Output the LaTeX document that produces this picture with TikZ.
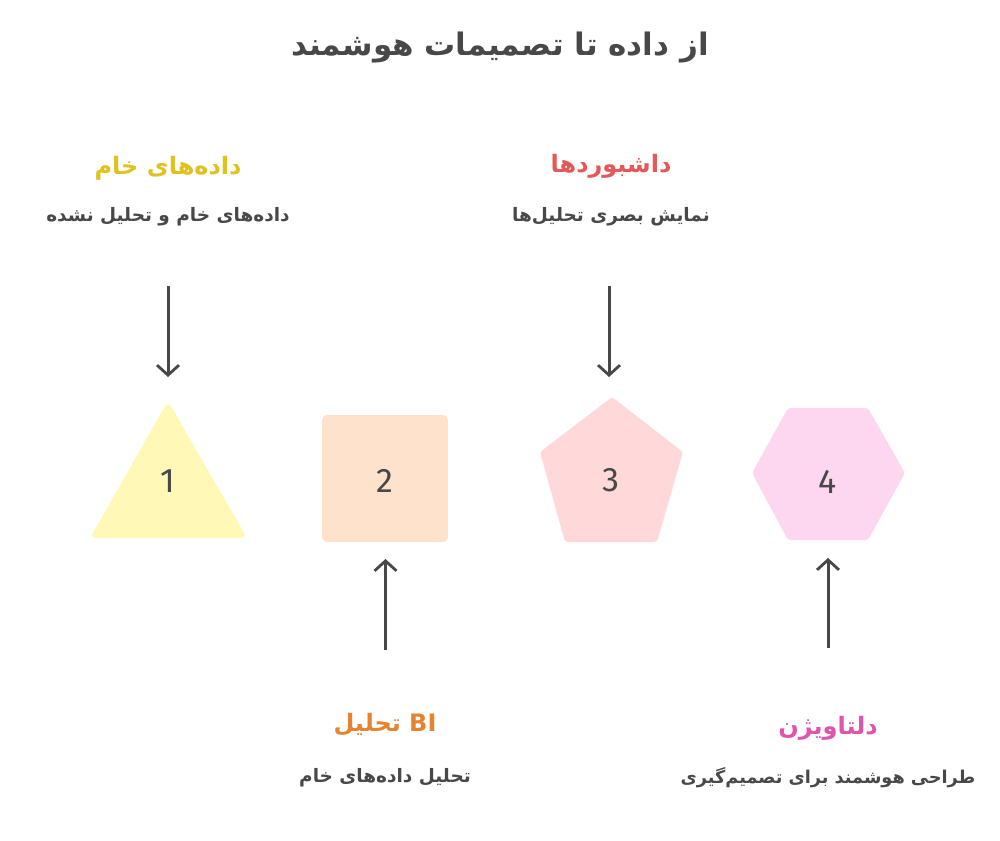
\documentclass[tikz,border=0pt]{standalone}
\usepackage{fontspec}
\usetikzlibrary{arrows.meta}
\TeXXeTstate=1
\newfontfamily\arabicfont[Script=Arabic]{DejaVu Sans}
\newfontfamily\numfont{Fira Sans}
\definecolor{txt}{HTML}{484848}
\definecolor{ylw}{HTML}{E0C21E}
\definecolor{red1}{HTML}{E45858}
\definecolor{org}{HTML}{E5832F}
\definecolor{pnk}{HTML}{E054AA}
\definecolor{fill1}{HTML}{FFF8B6}
\definecolor{fill2}{HTML}{FFE2CB}
\definecolor{fill3}{HTML}{FFD9D9}
\definecolor{fill4}{HTML}{FDD7F0}
\tikzset{
  ttl/.style={font=\arabicfont\bfseries\fontsize{31}{36}\selectfont, text=txt},
  head/.style={font=\arabicfont\bfseries\fontsize{24}{28}\selectfont},
  sub/.style={font=\arabicfont\bfseries\fontsize{18.5}{22}\selectfont, text=txt},
  subs/.style={font=\arabicfont\bfseries\fontsize{17.7}{22}\selectfont, text=txt},
  num/.style={font=\numfont\fontsize{34}{38}\selectfont, text=txt},
  arr/.style={draw=txt, line width=3pt, -{Straight Barb[length=10pt,width=22pt,line width=2.8pt]}}
}
\begin{document}
\begin{tikzpicture}[x=1pt,y=-1pt]
\useasboundingbox (0,0) rectangle (1000,840);
% title
\node[ttl] (title) at (500,48) {\beginR از داده تا تصمیمات هوشمند\endR};
% shapes
\fill[fill1, rounded corners=6pt] (168,401) -- (247,538) -- (90,538) -- cycle;
\fill[fill2, rounded corners=5pt] (322,415) rectangle (448,542);
\fill[fill3, rounded corners=3pt] (612,397) -- (683,452) -- (657,542) -- (565,542) -- (540,452) -- cycle;
\fill[fill4, rounded corners=3pt] (752,473) -- (788,408) -- (868,408) -- (905,473) -- (868,540) -- (788,540) -- cycle;
\node[num] (n1) at (168,481) {1};
\node[num] (n2) at (385,481) {2};
\node[num] (n3) at (611,480) {3};
\node[num] (n4) at (828,482) {4};
% labels
\node[head, text=ylw] (h1) at (168,168) {\beginR داده^^^^200cهای خام\endR};
\node[sub] (s1) at (168,217) {\beginR داده^^^^200cهای خام و تحلیل نشده\endR};
\node[head, text=red1] (h3) at (611,166) {\beginR داشبوردها\endR};
\node[sub] (s3) at (611,217) {\beginR نمایش بصری تحلیل^^^^200cها\endR};
\node[head, text=org] (h2) at (385,725) {\beginR \beginL BI\endL{} تحلیل\endR};
\node[sub] (s2) at (385,778) {\beginR تحلیل داده^^^^200cهای خام\endR};
\node[head, text=pnk] (h4) at (828,728) {\beginR دلتاویژن\endR};
\node[subs] (s4) at (828,778) {\beginR طراحی هوشمند برای تصمیم^^^^200cگیری\endR};
% arrows
\coordinate (a1s) at (168,286); \coordinate (a1e) at (168,377);
\coordinate (a2s) at (385.5,650); \coordinate (a2e) at (385.5,559);
\coordinate (a3s) at (609,286); \coordinate (a3e) at (609,377);
\coordinate (a4s) at (828,648); \coordinate (a4e) at (828,558);
\draw[arr] (a1s) -- (a1e);
\draw[arr] (a2s) -- (a2e);
\draw[arr] (a3s) -- (a3e);
\draw[arr] (a4s) -- (a4e);
\end{tikzpicture}
\end{document}
